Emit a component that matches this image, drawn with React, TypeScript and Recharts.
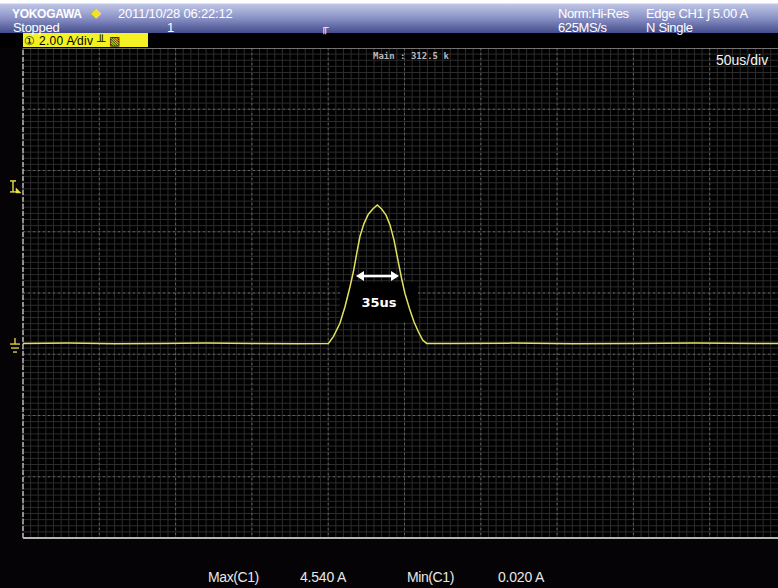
import React from 'react';
import {
  LineChart,
  Line,
  XAxis,
  YAxis,
  CartesianGrid,
  ReferenceLine,
  ReferenceArea,
} from 'recharts';

// time in microseconds (50 us/div, 10 div), current in amps (2 A/div)
const timeUs = [
  0, 30, 60, 90, 120, 150, 180,
  200.1, 203.4, 207.7, 211.0, 214.3, 216.5, 218.7, 220.8, 223.5, 226.3, 229.2,
  232.2, 235.0, 237.9, 240.5, 243.1, 245.9, 248.1, 250.3, 253.2, 256.2, 259.1,
  261.9, 264.5,
  280, 320, 360, 400, 440, 480, 500,
];
const currentA = [
  0.02, 0.03, 0.01, 0.02, 0.03, 0.02, 0.01,
  0.02, 0.24, 0.68, 1.22, 1.87, 2.36, 2.96, 3.51, 3.94, 4.24, 4.41,
  4.54, 4.41, 4.21, 3.89, 3.4, 2.69, 2.14, 1.65, 1.17, 0.73, 0.4,
  0.13, 0.02,
  0.02, 0.03, 0.01, 0.02, 0.03, 0.02, 0.02,
];

const headerLeft = ['2011/10/28 06:22:12', 'Stopped'];
const headerRight = ['Norm:Hi-Res', '625MS/s', 'Edge CH1 \u0283 5.00 A', 'N Single'];
const measLabels = ['Max(C1)', '4.540 A', 'Min(C1)', '0.020 A'];

const X_DOMAIN: [number, number] = [0, 500];
const Y_DOMAIN: [number, number] = [-6.3333, 9.6667];
const TRIGGER_LEVEL = 5;
const widthMark = { from: 218.2, to: 246.4, level: 2.22, text: '35us' };
const widthBox = { x1: 207.7, x2: 258.8, y1: 0.72, y2: 2.02 };

const data = timeUs.map((t, i) => ({ t, a: currentA[i] }));

const font = '"Liberation Sans", Arial, sans-serif';
const trace = '#e2e15e';

function gridLines(start: number, size: number, count: number) {
  const out: number[] = [];
  for (let i = 0; i <= count; i++) out.push(start + (i * size) / count);
  return out;
}

const ArrowShape = (p: any) => {
  const { x1, y1, x2, y2 } = p;
  const h = 8;
  const w = 5;
  return (
    <g>
      <line x1={x1 + h - 1} y1={y1} x2={x2 - h + 1} y2={y2} stroke="#fff" strokeWidth={2.5} />
      <polygon points={`${x1},${y1} ${x1 + h},${y1 - w} ${x1 + h},${y1 + w}`} fill="#fff" />
      <polygon points={`${x2},${y2} ${x2 - h},${y2 - w} ${x2 - h},${y2 + w}`} fill="#fff" />
    </g>
  );
};

const GroundMark = (p: any) => {
  const x = p.viewBox.x - 13;
  const y = p.viewBox.y;
  return (
    <g stroke="#e6e040" strokeWidth={1.3}>
      <line x1={x + 5} y1={y - 6} x2={x + 5} y2={y} />
      <line x1={x} y1={y} x2={x + 10} y2={y} />
      <line x1={x + 1} y1={y + 4} x2={x + 9} y2={y + 4} />
      <line x1={x + 3} y1={y + 8} x2={x + 7} y2={y + 8} />
    </g>
  );
};

const TriggerMark = (p: any) => {
  const x = p.viewBox.x - 12;
  const y = p.viewBox.y;
  return (
    <g stroke="#e6e040" strokeWidth={1.4} fill="#e6e040">
      <line x1={x - 1} y1={y - 10} x2={x + 5} y2={y - 10} />
      <line x1={x + 2} y1={y - 10} x2={x + 2} y2={y + 1} />
      <line x1={x - 1} y1={y + 1} x2={x + 6} y2={y + 1} />
      <polygon points={`${x + 5},${y - 3} ${x + 10},${y + 2} ${x + 5},${y + 2}`} strokeWidth={0.5} />
    </g>
  );
};

const txt = (extra: React.CSSProperties): React.CSSProperties => ({
  position: 'absolute',
  fontFamily: font,
  whiteSpace: 'nowrap',
  lineHeight: 1,
  ...extra,
});

export default function App() {
  return (
    <div
      style={{
        position: 'fixed',
        left: 0,
        top: 0,
        width: 778,
        height: 588,
        overflow: 'hidden',
        background: '#050305',
      }}
    >
      <div style={{ position: 'absolute', left: 0, top: 0 }}>
        <LineChart
          width={800}
          height={588}
          data={data}
          margin={{ top: 48, left: 23, right: 14, bottom: 50 }}
        >
          <CartesianGrid
            fill="#000"
            stroke="#2c2c2c"
            strokeWidth={1}
            verticalCoordinatesGenerator={({ offset }: any) => gridLines(offset.left, offset.width, 100)}
            horizontalCoordinatesGenerator={({ offset }: any) => gridLines(offset.top, offset.height, 80)}
          />
          <CartesianGrid
            stroke="#626262"
            strokeDasharray="2 3"
            verticalCoordinatesGenerator={({ offset }: any) => gridLines(offset.left, offset.width, 10)}
            horizontalCoordinatesGenerator={({ offset }: any) => gridLines(offset.top, offset.height, 8)}
          />
          <XAxis type="number" dataKey="t" domain={X_DOMAIN} hide />
          <YAxis type="number" domain={Y_DOMAIN} hide allowDataOverflow />
          <ReferenceLine y={Y_DOMAIN[1]} stroke="#8c8c8c" strokeWidth={1.5} />
          <ReferenceLine y={Y_DOMAIN[0]} stroke="#b4b4b4" strokeWidth={2} />
          <ReferenceLine x={0} stroke="#b0b0b0" strokeWidth={1.5} strokeDasharray="5 2" />
          <ReferenceLine y={0} stroke="none" label={<GroundMark />} />
          <ReferenceLine y={TRIGGER_LEVEL} stroke="none" label={<TriggerMark />} />
          <ReferenceArea
            x1={widthBox.x1}
            x2={widthBox.x2}
            y1={widthBox.y1}
            y2={widthBox.y2}
            fill="#000"
            fillOpacity={1}
            stroke="none"
            label={{
              value: widthMark.text,
              position: 'center',
              fill: '#fff',
              fontSize: 13,
              fontWeight: 'bold',
              fontFamily: '"DejaVu Sans", sans-serif',
            }}
          />
          <Line
            type="linear"
            dataKey="a"
            stroke={trace}
            strokeWidth={1.5}
            dot={false}
            isAnimationActive={false}
          />
          <ReferenceLine
            segment={[
              { x: widthMark.from, y: widthMark.level },
              { x: widthMark.to, y: widthMark.level },
            ]}
            shape={ArrowShape}
          />
        </LineChart>
      </div>

      {/* header */}
      <div
        style={{
          position: 'absolute',
          left: 0,
          top: 0,
          width: 778,
          height: 33,
          background: 'linear-gradient(#ffffff 0px, #ffffff 3px, #c0c6e6 4px, #8a92c6 18px, #444c8c 33px)',
        }}
      />
      <div style={{ position: 'absolute', left: 0, top: 33, width: 778, height: 15, background: '#000' }} />
      <div style={{ position: 'absolute', left: 23, top: 33, width: 125, height: 14, background: '#f4f222' }} />
      <div style={txt({ left: 24, top: 35, fontSize: 12, color: '#000', letterSpacing: 0.3 })}>
        {'\u2460   2.00 A\u2044div \u2568 \u25A7'}
      </div>
      <div style={txt({ left: 12, top: 8, fontSize: 12, fontWeight: 'bold', color: '#fff', letterSpacing: -0.3 })}>
        YOKOGAWA
      </div>
      <div style={txt({ left: 91, top: 6, fontSize: 13, color: '#f6e21a' })}>{'\u25C6'}</div>
      <div style={txt({ left: 118, top: 7, fontSize: 13, color: '#fff', letterSpacing: -0.2 })}>{headerLeft[0]}</div>
      <div style={txt({ left: 13, top: 21, fontSize: 13, color: '#fff', letterSpacing: -0.3 })}>{headerLeft[1]}</div>
      <div style={txt({ left: 167, top: 21, fontSize: 13, color: '#fff' })}>1</div>
      <div style={txt({ left: 321, top: 22, fontSize: 11, color: '#fff' })}>{'\u2553'}</div>
      <div style={txt({ left: 558, top: 7, fontSize: 13, color: '#fff', letterSpacing: -0.4 })}>{headerRight[0]}</div>
      <div style={txt({ left: 558, top: 21, fontSize: 13, color: '#fff', letterSpacing: -0.4 })}>{headerRight[1]}</div>
      <div style={txt({ left: 646, top: 7, fontSize: 13, color: '#fff', letterSpacing: -0.3 })}>{headerRight[2]}</div>
      <div style={txt({ left: 646, top: 21, fontSize: 13, color: '#fff', letterSpacing: -0.3 })}>{headerRight[3]}</div>

      {/* in-plot labels */}
      <div
        style={txt({
          left: 373,
          top: 52,
          fontSize: 9,
          color: '#b8b8b8',
          fontFamily: '"DejaVu Sans Mono", monospace',
          fontWeight: 'bold',
        })}
      >
        Main : 312.5 k
      </div>
      <div style={txt({ left: 716, top: 53, fontSize: 14, color: '#f2f2f2' })}>50us/div</div>

      {/* measurements */}
      <div style={txt({ left: 208, top: 570, fontSize: 14, color: '#e8e8e8', letterSpacing: -0.4 })}>{measLabels[0]}</div>
      <div style={txt({ left: 300, top: 570, fontSize: 14, color: '#e8e8e8', letterSpacing: -0.2 })}>{measLabels[1]}</div>
      <div style={txt({ left: 407, top: 570, fontSize: 14, color: '#e8e8e8', letterSpacing: -0.4 })}>{measLabels[2]}</div>
      <div style={txt({ left: 498, top: 570, fontSize: 14, color: '#e8e8e8', letterSpacing: -0.2 })}>{measLabels[3]}</div>
    </div>
  );
}
